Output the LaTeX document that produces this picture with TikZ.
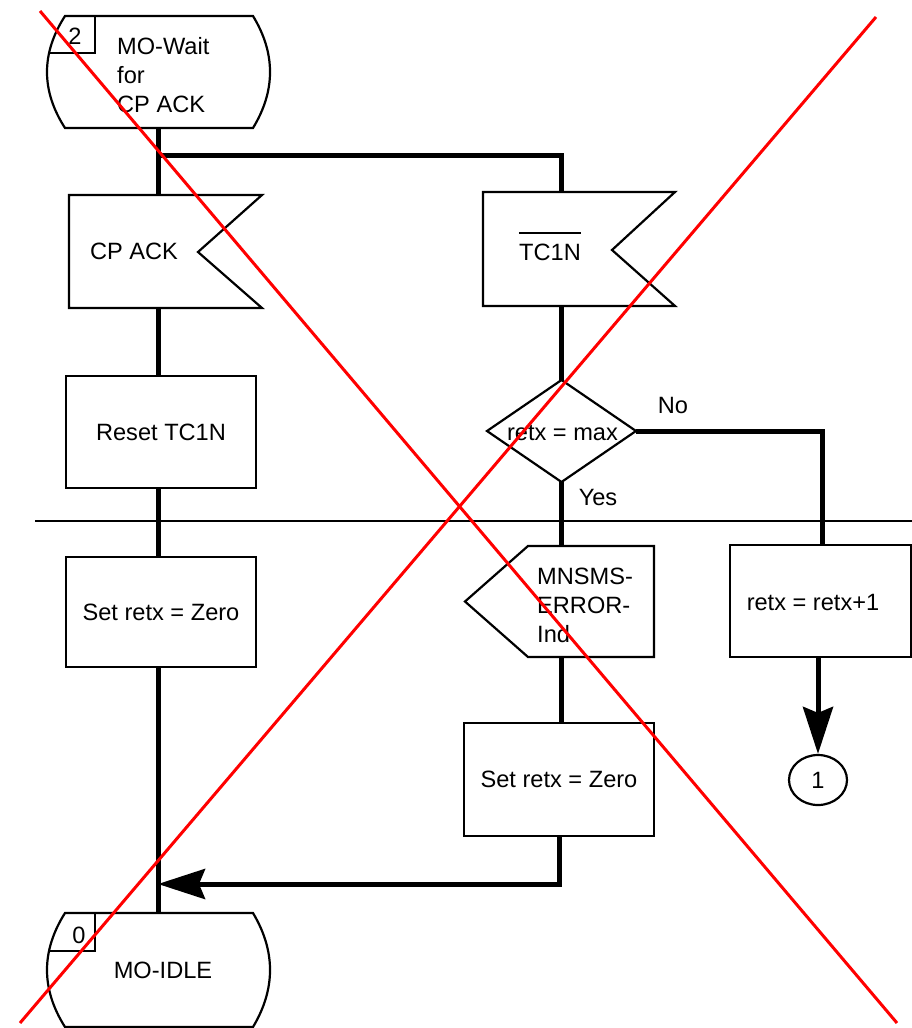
\documentclass[tikz,border=0pt]{standalone}
\usepackage{fontspec}
\setmainfont{Liberation Sans}
\usetikzlibrary{arrows.meta,shapes.geometric}
\newcommand\dfs{\fontsize{23.6}{29}\selectfont}
\begin{document}
\begin{tikzpicture}[x=1pt,y=-1pt,
  outline/.style={draw=black,line width=2.2pt,line join=miter},
  bound/.style={draw=none,inner sep=0pt,outer sep=0pt},
  box/.style={outline,inner sep=0pt,outer sep=0pt,font=\dfs},
  lbl/.style={inner sep=0pt,font=\dfs},
  flow/.style={line width=5pt},
  arr/.style={flow,-{Stealth[length=47pt,width=30pt,inset=6pt]}},
  cross/.style={draw=red,line width=3pt},
  thinline/.style={line width=1.6pt}]
\useasboundingbox (0,0) rectangle (912,1028);
\fill[white] (0,0) rectangle (912,1028);

% columns
\coordinate (colL) at (158,0);
\coordinate (colR) at (561,0);
\coordinate (colN) at (822,0);

% state 2
\node[bound,minimum width=223pt,minimum height=112pt] (s2) at (158.5,72) {};
\draw[outline] (65,16) -- (253,16) .. controls (275.7,53.3) and (275.7,90.7) .. (253,128)
  -- (65,128) .. controls (41,90.7) and (41,53.3) .. (65,16) -- cycle;
\draw[outline] (95,16) -- (95,53.3) -- (49,53.3);
\node[lbl] (s2n) at (75,36) {2};
\node[lbl,anchor=base west] (s2a) at (117,54) {MO-Wait};
\node[lbl,anchor=base west] (s2b) at (117,83) {for};
\node[lbl,anchor=base west] (s2c) at (117,112) {CP ACK};

% input CP ACK
\node[bound,minimum width=193pt,minimum height=113pt] (cpack) at (165.5,251.5) {};
\draw[outline] (cpack.north west) -- (cpack.north east) -- (198,252) -- (cpack.south east) -- (cpack.south west) -- cycle;
\node[lbl] (cpackt) at (134,251) {CP ACK};

% input TC1N
\node[bound,minimum width=192pt,minimum height=114pt] (tc1n) at (579,249) {};
\draw[outline] (tc1n.north west) -- (tc1n.north east) -- (612,250) -- (tc1n.south east) -- (tc1n.south west) -- cycle;
\node[lbl] (tc1nt) at (550,252) {TC1N};
\draw[line width=2pt] ([yshift=10pt]tc1nt.north west) -- ([yshift=10pt]tc1nt.north east);

% task boxes
\node[box,minimum width=190pt,minimum height=112pt] (reset) at (161,432) {Reset TC1N};
\node[box,minimum width=190pt,minimum height=110pt] (setL) at (161,612) {Set retx = Zero};
\node[box,minimum width=190pt,minimum height=113pt] (setR) at (559,779.5) {Set retx = Zero};

% decision
\node[bound,minimum width=149pt,minimum height=102pt] (dia) at (561.5,431) {};
\draw[outline] (dia.west) -- (dia.north) -- (dia.east) -- (dia.south) -- cycle;
\node[lbl] (diat) at (562.5,433) {retx = max};
\node[lbl] (no) at (673,405) {No};
\node[lbl] (yes) at (598,497) {Yes};

% output MNSMS-ERROR-Ind
\node[bound,minimum width=189pt,minimum height=111pt] (mn) at (559.5,601.5) {};
\draw[outline] (528,546) -- (mn.north east) -- (mn.south east) -- (528,657) -- (mn.west) -- cycle;
\node[lbl,anchor=base west] (mna) at (537,584) {MNSMS-};
\node[lbl,anchor=base west] (mnb) at (537,613) {ERROR-};
\node[lbl,anchor=base west] (mnc) at (537,642) {Ind};

% retx = retx+1
\node[box,minimum width=181pt,minimum height=112pt] (retx) at (820.5,601) {};
\node[lbl] (retxt) at (813,602) {retx = retx+1};

% connector 1
\node[outline,ellipse,inner sep=0pt,minimum width=58pt,minimum height=50pt,font=\dfs] (c1) at (818,780) {1};

% state 0
\node[bound,minimum width=223pt,minimum height=114pt] (s0) at (158.5,970) {};
\draw[outline] (65,913) -- (253,913) .. controls (275.7,951) and (275.7,989) .. (253,1027)
  -- (65,1027) .. controls (41,989) and (41,951) .. (65,913) -- cycle;
\draw[outline] (95,913) -- (95,951) -- (49,951);
\node[lbl] (s0n) at (79,935) {0};
\node[lbl] (s0t) at (163,970) {MO-IDLE};

% divider
\draw[thinline] (35,521) -- (912,521);

% flow lines
\coordinate (br) at (colL |- 0,155);
\draw[flow] (colL |- s2.south) -- (colL |- cpack.north);
\draw[flow,line join=miter] (br) -- (colR |- br) -- (colR |- tc1n.north);
\draw[flow] (colL |- cpack.south) -- (colL |- reset.north);
\draw[flow] (colL |- reset.south) -- (colL |- setL.north);
\draw[flow] (colL |- setL.south) -- (colL |- s0.north);
\draw[flow] (colR |- tc1n.south) -- (colR |- dia.north);
\draw[flow] (colR |- dia.south) -- (colR |- mn.north);
\draw[flow,line join=miter] (dia.east) -- (colN |- dia.east) -- (colN |- retx.north);
\draw[flow] (colR |- mn.south) -- (colR |- setR.north);
\coordinate (jn) at (setR.south |- 0,884);
\draw[arr,line join=miter] (setR.south) -- (jn) -- (colL |- jn);
\draw[arr] (c1.north |- retx.south) -- (c1.north);

% red cross
\draw[cross] (40,11) -- (897,1023);
\draw[cross] (876,17) -- (20,1023);
\end{tikzpicture}
\end{document}
